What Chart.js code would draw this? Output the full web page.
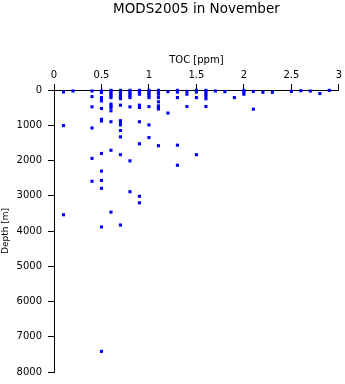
<!DOCTYPE html>
<html>
<head>
<meta charset="utf-8">
<script src="https://cdn.jsdelivr.net/npm/chart.js@4.4.0/dist/chart.umd.min.js"></script>
<style>
  html, body { margin: 0; padding: 0; background: #fff; }
  #wrap { width: 345px; height: 384px; }
</style>
</head>
<body>
<div id="wrap"><canvas id="myChart"></canvas></div>
<script>

    // TOC [ppm] and depth [m] of each sample
    const tocValues = [
        0.1, 0.1, 0.1,
        0.2,
        0.4, 0.4, 0.4, 0.4, 0.4, 0.4,
        0.5, 0.5, 0.5, 0.5, 0.5, 0.5, 0.5, 0.5, 0.5, 0.5, 0.5, 0.5, 0.5, 0.5,
        0.6, 0.6, 0.6, 0.6, 0.6, 0.6, 0.6, 0.6, 0.6, 0.6, 0.6, 0.6,
        0.7, 0.7, 0.7, 0.7, 0.7, 0.7, 0.7, 0.7, 0.7, 0.7, 0.7, 0.7, 0.7, 0.7,
        0.8, 0.8, 0.8, 0.8, 0.8, 0.8, 0.8, 0.8,
        0.9, 0.9, 0.9, 0.9, 0.9, 0.9, 0.9, 0.9, 0.9,
        1.0, 1.0, 1.0, 1.0, 1.0, 1.0, 1.0, 1.0,
        1.1, 1.1, 1.1, 1.1, 1.1, 1.1, 1.1, 1.1, 1.1,
        1.2, 1.2,
        1.3, 1.3, 1.3, 1.3, 1.3,
        1.4, 1.4, 1.4,
        1.5, 1.5, 1.5, 1.5,
        1.6, 1.6, 1.6, 1.6, 1.6, 1.6,
        1.7, 1.8, 1.9,
        2.0, 2.0, 2.0,
        2.1, 2.1,
        2.2, 2.3, 2.5, 2.6, 2.7, 2.8, 2.9
    ];
    const depthValues = [
        56, 1010, 3540,
        28,
        28, 187, 477, 1077, 1940, 2590,
        30, 70, 215, 260, 310, 525, 830, 880, 1800, 2300, 2565, 2790, 3885, 7415,
        10, 60, 110, 160, 215, 400, 450, 495, 590, 900, 1710, 3465,
        10, 50, 85, 150, 200, 245, 430, 870, 930, 990, 1150, 1330, 1835, 3830,
        10, 60, 110, 160, 215, 477, 2010, 2885,
        10, 60, 120, 430, 495, 900, 1525, 3015, 3200,
        10, 60, 110, 160, 215, 470, 990, 1350,
        10, 60, 120, 215, 337, 450, 500, 540, 1580,
        47, 655,
        10, 60, 215, 1565, 2135,
        40, 120, 468,
        10, 60, 215, 1835,
        10, 60, 120, 180, 250, 468,
        28, 47, 215,
        10, 60, 120,
        40, 545,
        65, 65, 40, 20, 30, 100, 10
    ];

    const xTicks = [0, 0.5, 1, 1.5, 2, 2.5, 3];
    const yTicks = [0, 1000, 2000, 3000, 4000, 5000, 6000, 7000, 8000];

    const points = tocValues.map((v, i) => ({ x: v, y: depthValues[i] }));

    const font = 'DejaVu Sans';

    const config = {
        type: 'scatter',
        data: {
            datasets: [{
                label: 'TOC',
                data: points,
                pointStyle: 'rect',
                pointRadius: 2.2,
                pointBorderWidth: 0,
                backgroundColor: '#0000ff',
                borderColor: '#0000ff',
                clip: false
            }]
        },
        options: {
            responsive: true,
            maintainAspectRatio: false,
            animation: false,
            layout: {
                padding: { left: 0, right: 6, top: 0, bottom: 9 }
            },
            scales: {
                x: {
                    type: 'linear',
                    position: 'top',
                    min: 0,
                    max: 3,
                    afterBuildTicks: s => { s.ticks = xTicks.map(v => ({ value: v })); },
                    afterFit: s => { s.height = 72.8; },
                    ticks: {
                        color: '#000',
                        font: { family: font, size: 10 },
                        padding: 3,
                        maxRotation: 0,
                        autoSkip: false,
                        callback: v => String(v)
                    },
                    grid: {
                        drawOnChartArea: false,
                        drawTicks: true,
                        tickLength: 6,
                        color: '#000'
                    },
                    border: { display: true, color: '#000', width: 1 },
                    title: {
                        display: true,
                        text: 'TOC [ppm]',
                        color: '#000',
                        font: { family: font, size: 10 },
                        padding: { top: 36.8, bottom: 0 }
                    }
                },
                y: {
                    type: 'linear',
                    reverse: true,
                    min: 0,
                    max: 8000,
                    afterBuildTicks: s => { s.ticks = yTicks.map(v => ({ value: v })); },
                    afterFit: s => { s.width = 54; },
                    ticks: {
                        color: '#000',
                        font: { family: font, size: 10 },
                        padding: 6,
                        autoSkip: false,
                        callback: v => String(v)
                    },
                    grid: {
                        drawOnChartArea: false,
                        drawTicks: true,
                        tickLength: 6,
                        color: '#000'
                    },
                    border: { display: true, color: '#000', width: 1 },
                    title: {
                        display: true,
                        text: 'Depth [m]',
                        color: '#000',
                        font: { family: font, size: 9 },
                        padding: { top: 0, bottom: 0 }
                    }
                }
            },
            plugins: {
                legend: { display: false },
                tooltip: { enabled: false },
                title: {
                    display: true,
                    text: 'MODS2005 in November',
                    fullSize: false,
                    color: '#000',
                    font: { family: font, size: 13.5, weight: 'normal' },
                    padding: { top: 1, bottom: 0 }
                }
            }
        }
    };

    const ctx = document.getElementById('myChart');

    new Chart(ctx, config);
</script>
</body>
</html>
